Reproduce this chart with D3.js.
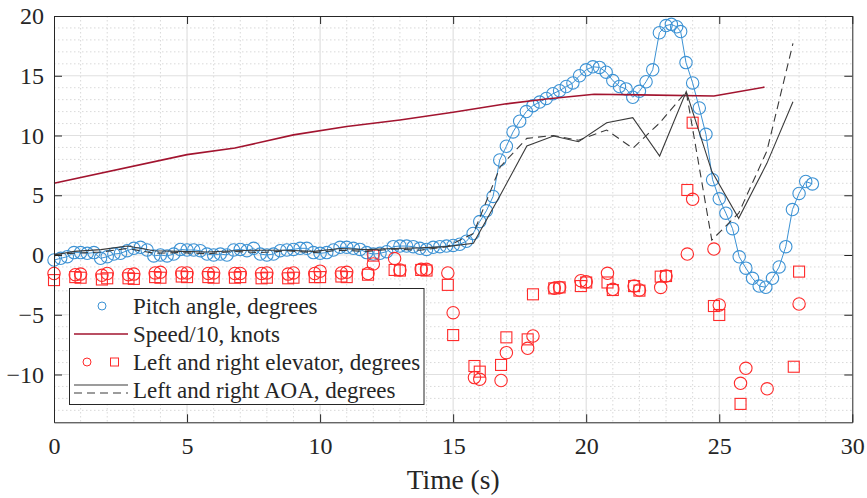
<!DOCTYPE html>
<html>
<head>
<meta charset="utf-8">
<script src="https://cdn.jsdelivr.net/npm/d3@7"></script>
<style>
  html, body { margin: 0; padding: 0; background: #fff; }
  svg { display: block; }
</style>
</head>
<body>
<svg id="chart" width="867" height="498"></svg>
<script>
// ---- data ----
const pitchTime = [
  0, 0.25, 0.5, 0.75, 1, 1.25, 1.5, 1.75, 2, 2.25, 2.5, 2.75, 3, 3.25, 3.5, 3.75,
  4, 4.25, 4.5, 4.75, 5, 5.25, 5.5, 5.75, 6, 6.25, 6.5, 6.75, 7, 7.25, 7.5, 7.75,
  8, 8.25, 8.5, 8.75, 9, 9.25, 9.5, 9.75, 10, 10.25, 10.5, 10.75, 11, 11.25, 11.5, 11.75,
  12, 12.25, 12.5, 12.75, 13, 13.25, 13.5, 13.75, 14, 14.25, 14.5, 14.75, 15, 15.25, 15.5, 15.75,
  16, 16.25, 16.5, 16.75, 17, 17.25, 17.5, 17.75, 18, 18.25, 18.5, 18.75, 19, 19.25, 19.5, 19.75,
  20, 20.25, 20.5, 20.75, 21, 21.25, 21.5, 21.75, 22, 22.25, 22.5, 22.75, 23, 23.2, 23.4, 23.55,
  23.75, 24, 24.25, 24.5, 24.75, 25, 25.25, 25.5, 25.75, 26, 26.25, 26.5, 26.75, 27, 27.25, 27.5,
  27.75, 28, 28.25, 28.5
];
const pitchDeg = [
  -0.42, -0.28, -0.14, 0.2, 0.2, 0.14, 0.2, -0.28, -0.14, 0.08, 0.14, 0.36, 0.56, 0.64, 0.42, -0.08,
  0, -0.08, 0.08, 0.47, 0.42, 0.42, 0.36, 0.08, 0, 0.08, 0, 0.42, 0.47, 0.36, 0.56, 0.08,
  0, 0.08, 0.36, 0.42, 0.47, 0.56, 0.56, 0.2, 0.14, 0.2, 0.42, 0.64, 0.64, 0.56, 0.47, 0.2,
  0.08, 0.14, 0.28, 0.7, 0.75, 0.75, 0.7, 0.56, 0.47, 0.64, 0.7, 0.75, 0.8, 0.9, 1.15, 1.8,
  2.8, 3.7, 4.9, 7.95, 9.1, 10.3, 11.2, 12.0, 12.5, 12.8, 13.1, 13.5, 13.75, 14.1, 14.4, 15.0,
  15.5, 15.75, 15.7, 15.3, 14.6, 14.1, 13.9, 13.2, 13.7, 14.5, 15.5, 18.6, 19.2, 19.3, 19.1, 18.7,
  16.1, 14.4, 12.3, 10.1, 6.3, 4.7, 3.5, 2.2, -0.15, -1.1, -1.95, -2.6, -2.7, -1.95, -1.0, 0.7,
  3.8, 5.15, 6.15, 5.95
];

const speedTime = [0, 5, 6.8, 9, 11, 13, 15, 17, 18.5, 20.3, 22, 24.8, 26.7];
const speedTenKnots = [6.0, 8.4, 8.95, 10.05, 10.75, 11.3, 11.95, 12.65, 13.05, 13.45, 13.4, 13.3, 14.05];

const elevTime = [
  0, 0.8, 1, 1.8, 2, 2.8, 3, 3.8, 4, 4.8, 5, 5.8, 6, 6.8, 7, 7.8, 8, 8.8, 9, 9.8, 10,
  10.8, 11, 11.8, 12, 12.8, 13, 13.8, 14, 14.8, 15, 15.8, 16, 16.8, 17, 17.8, 18,
  18.8, 19, 19.8, 20, 20.8, 21, 21.8, 22, 22.8, 23, 23.8, 24, 24.8, 25, 25.8, 26,
  26.8, 27.8, 28
];
const elevLeft = [
  -1.55, -1.65, -1.6, -1.7, -1.55, -1.65, -1.6, -1.5, -1.45, -1.5, -1.5, -1.55, -1.5, -1.55, -1.55, -1.55, -1.5, -1.6, -1.5, -1.55, -1.35,
  -1.5, -1.45, -1.55, -0.75, -0.3, -1.25, -1.2, -1.2, -1.5, -4.83, -10.26, -10.4, -10.5, -8.17, -7.81, -6.78,
  -2.79, -2.71, -2.15, -2.23, -1.53, -2.87, -2.59, -2.93, -2.71, -1.76, 0.08, 4.66, 0.5, -4.18, -10.74, -9.48,
  -11.2, null, -4.1
];
const elevRight = [
  -2.1, -1.85, -1.9, -2.05, -1.95, -1.95, -2.0, -1.85, -1.9, -1.8, -1.85, -1.85, -1.9, -1.9, -1.85, -1.95, -1.9, -1.95, -1.9, -1.85, -1.85,
  -1.8, -1.85, -1.65, -0.05, -1.25, -1.3, -1.25, -1.3, -2.5, -6.7, -9.29, -9.76, -9.2, -6.89, -7.06, -3.29,
  -2.79, -2.71, -2.6, -2.3, -2.3, -2.93, -2.6, -2.98, -1.81, -1.76, 5.44, 11.07, -4.27, -5.02, -12.46, null,
  null, -9.35, -1.39
];

const aoaTime = [0, 0.76, 1.76, 2.76, 3.76, 4.76, 5.76, 6.76, 7.76, 8.76, 9.76, 10.76, 11.76, 12.76, 13.76, 14.76,
  15.76, 16.77, 17.77, 18.77, 19.71, 20.77, 21.75, 22.76, 23.76, 24.72, 25.73, 26.79, 27.77];
const aoaLeft = [0, 0.3, 0.45, 0.75, 0.35, 0.3, 0.25, 0.35, 0.4, 0.4, 0.3, 0.55, 0.45, 0.55, 0.6, 0.7,
  0.98, 5.0, 9.12, 9.96, 9.48, 11.07, 11.49, 8.28, 13.67, 7.0, 3.07, 7.67, 12.83];
const aoaRight = [0.05, 0.15, 0.25, 0.55, 0.15, 0.2, 0.1, 0.3, 0.2, 0.35, 0.2, 0.4, 0.3, 0.5, 0.4, 0.7,
  1.8, 7.39, 9.76, 10.0, 9.6, 10.46, 8.93, 11.05, 13.67, 1.25, 3.5, 8.7, 17.7];

const xTicks = [0, 5, 10, 15, 20, 25, 30];
const yTicks = [-10, -5, 0, 5, 10, 15, 20];

const legendLabels = [
  "Pitch angle, degrees",
  "Speed/10, knots",
  "Left and right elevator, degrees",
  "Left and right AOA, degrees"
];

// ---- styling ----
const FONT = "'Liberation Serif', 'Times New Roman', serif";
const AXIS_COLOR = "#262626";
const BLUE = "#3c92d4";
const DARK_RED = "#a2142f";
const RED = "#ff2a2a";
const GRAY = "#3a3a3a";

const svg = d3.select("#chart");
const L = 54, R = 852.3, T = 16, B = 422.3;

const x = d3.scaleLinear().domain([0, 30]).range([L, R]);
const y = d3.scaleLinear().domain([-14, 20]).range([B, T]);

// ---- grid ----
const grid = svg.append("g");
d3.range(1, 30).filter(v => v % 5 !== 0).forEach(v => {
  grid.append("line").attr("x1", x(v)).attr("x2", x(v)).attr("y1", T).attr("y2", B)
    .attr("stroke", "#cfcfcf").attr("stroke-width", 0.8).attr("stroke-dasharray", "1.5,2.5");
});
d3.range(-13, 20).filter(v => v % 5 !== 0).forEach(v => {
  grid.append("line").attr("x1", L).attr("x2", R).attr("y1", y(v)).attr("y2", y(v))
    .attr("stroke", "#cfcfcf").attr("stroke-width", 0.8).attr("stroke-dasharray", "1.5,2.5");
});
xTicks.slice(1, -1).forEach(v => {
  grid.append("line").attr("x1", x(v)).attr("x2", x(v)).attr("y1", T).attr("y2", B)
    .attr("stroke", "#e0e0e0").attr("stroke-width", 1.2);
});
yTicks.filter(v => v > -14 && v < 20).forEach(v => {
  grid.append("line").attr("x1", L).attr("x2", R).attr("y1", y(v)).attr("y2", y(v))
    .attr("stroke", "#e0e0e0").attr("stroke-width", 1.2);
});

// ---- series ----
const plot = svg.append("g");

// pitch angle: line + open circles
const pitch = pitchTime.map((t, i) => [t, pitchDeg[i]]);
plot.append("path").datum(pitch)
  .attr("d", d3.line().x(d => x(d[0])).y(d => y(d[1])))
  .attr("fill", "none").attr("stroke", BLUE).attr("stroke-width", 1);
plot.append("g").selectAll("circle").data(pitch).join("circle")
  .attr("cx", d => x(d[0])).attr("cy", d => y(d[1])).attr("r", 6.2)
  .attr("fill", "none").attr("stroke", BLUE).attr("stroke-width", 1.1);

// speed
const speed = speedTime.map((t, i) => [t, speedTenKnots[i]]);
plot.append("path").datum(speed)
  .attr("d", d3.line().x(d => x(d[0])).y(d => y(d[1])))
  .attr("fill", "none").attr("stroke", DARK_RED).attr("stroke-width", 1.6);

// elevators
const elevL = elevTime.map((t, i) => [t, elevLeft[i]]).filter(d => d[1] !== null);
const elevR = elevTime.map((t, i) => [t, elevRight[i]]).filter(d => d[1] !== null);
plot.append("g").selectAll("circle").data(elevL).join("circle")
  .attr("cx", d => x(d[0])).attr("cy", d => y(d[1])).attr("r", 6.2)
  .attr("fill", "none").attr("stroke", RED).attr("stroke-width", 1.1);
plot.append("g").selectAll("rect").data(elevR).join("rect")
  .attr("x", d => x(d[0]) - 5.5).attr("y", d => y(d[1]) - 5.5)
  .attr("width", 11).attr("height", 11)
  .attr("fill", "none").attr("stroke", RED).attr("stroke-width", 1.1);

// angle of attack
const aoaL = aoaTime.map((t, i) => [t, aoaLeft[i]]);
const aoaR = aoaTime.map((t, i) => [t, aoaRight[i]]);
plot.append("path").datum(aoaL)
  .attr("d", d3.line().x(d => x(d[0])).y(d => y(d[1])))
  .attr("fill", "none").attr("stroke", GRAY).attr("stroke-width", 1.1);
plot.append("path").datum(aoaR)
  .attr("d", d3.line().x(d => x(d[0])).y(d => y(d[1])))
  .attr("fill", "none").attr("stroke", GRAY).attr("stroke-width", 1.1)
  .attr("stroke-dasharray", "8,5");

// ---- axes ----
function styleAxis(g) {
  g.attr("font-family", null);
  g.selectAll("path.domain").attr("stroke", AXIS_COLOR).attr("stroke-width", 1);
  g.selectAll(".tick line").attr("stroke", AXIS_COLOR).attr("stroke-width", 1);
  g.selectAll(".tick text").attr("fill", AXIS_COLOR)
    .style("font-family", FONT).style("font-size", "24px");
}
svg.append("g").attr("transform", `translate(0,${B})`)
  .call(d3.axisBottom(x).tickValues(xTicks).tickSize(-8).tickSizeOuter(0).tickPadding(15))
  .call(styleAxis);
svg.append("g").attr("transform", `translate(0,${T})`)
  .call(d3.axisTop(x).tickValues(xTicks).tickSize(-8).tickSizeOuter(0).tickFormat(""))
  .call(styleAxis);
svg.append("g").attr("transform", `translate(${L},0)`)
  .call(d3.axisLeft(y).tickValues(yTicks).tickSize(-8).tickSizeOuter(0).tickPadding(10))
  .call(styleAxis);
svg.append("g").attr("transform", `translate(${R},0)`)
  .call(d3.axisRight(y).tickValues(yTicks).tickSize(-8).tickSizeOuter(0).tickFormat(""))
  .call(styleAxis);

// x-axis title
svg.append("text")
  .attr("x", (L + R) / 2).attr("y", 489)
  .attr("text-anchor", "middle")
  .attr("fill", AXIS_COLOR)
  .style("font-family", FONT).style("font-size", "27.5px")
  .text("Time (s)");

// ---- legend ----
const lg = svg.append("g");
lg.append("rect").attr("x", 69.5).attr("y", 288.5).attr("width", 354.5).attr("height", 116)
  .attr("fill", "#fff").attr("stroke", AXIS_COLOR).attr("stroke-width", 1);
const rowY = [306, 334, 362, 390];
legendLabels.forEach((txt, i) => {
  lg.append("text").attr("x", 133).attr("y", rowY[i] + 7.5)
    .attr("fill", AXIS_COLOR)
    .style("font-family", FONT).style("font-size", "23px")
    .text(txt);
});
lg.append("circle").attr("cx", 102).attr("cy", rowY[0]).attr("r", 4)
  .attr("fill", "none").attr("stroke", BLUE).attr("stroke-width", 1);
lg.append("line").attr("x1", 74).attr("x2", 128).attr("y1", rowY[1]).attr("y2", rowY[1])
  .attr("stroke", DARK_RED).attr("stroke-width", 1.6);
lg.append("circle").attr("cx", 87).attr("cy", rowY[2]).attr("r", 4)
  .attr("fill", "none").attr("stroke", RED).attr("stroke-width", 1);
lg.append("rect").attr("x", 110.5).attr("y", rowY[2] - 4).attr("width", 8).attr("height", 8)
  .attr("fill", "none").attr("stroke", RED).attr("stroke-width", 1);
lg.append("line").attr("x1", 74).attr("x2", 128).attr("y1", 385).attr("y2", 385)
  .attr("stroke", GRAY).attr("stroke-width", 1.1);
lg.append("line").attr("x1", 74).attr("x2", 128).attr("y1", 393).attr("y2", 393)
  .attr("stroke", GRAY).attr("stroke-width", 1.1).attr("stroke-dasharray", "8,5");
</script>
</body>
</html>
